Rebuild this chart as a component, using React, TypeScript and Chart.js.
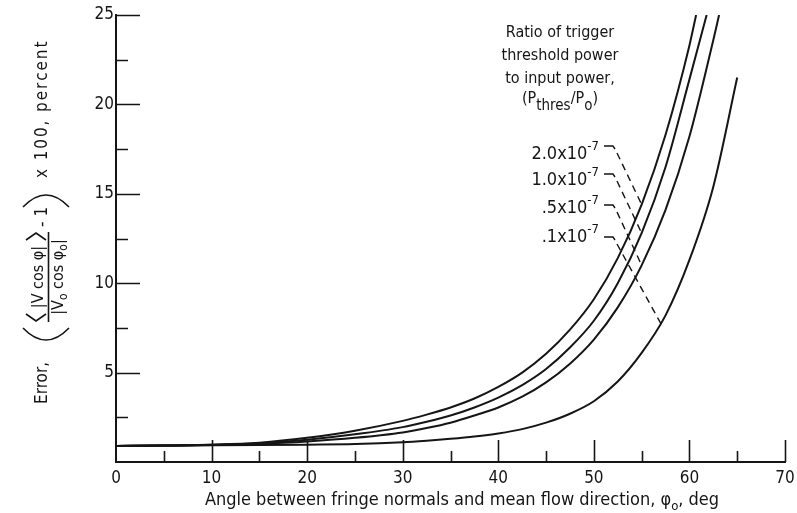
import React, { useEffect, useRef } from "react";
import { Chart, registerables } from "chart.js";

Chart.register(...registerables);

const INK = "#151515";
const FONT = "'DejaVu Sans Condensed', 'Liberation Sans Narrow', 'DejaVu Sans', sans-serif";

// Ratio of trigger threshold power to input power (P_thres / P_o)
const ratioMantissa = ["2.0x10", "1.0x10", ".5x10", ".1x10"];
const ratioExponent = "-7";

// Angle (deg) / error (percent) for each ratio
const angle20 = [0, 5, 10, 15, 20, 25, 30, 32.5, 35, 37.5, 40, 42.5, 45, 47.5, 50, 52.5, 55, 57.5, 60, 60.7];
const error20 = [0.9, 0.92, 0.97, 1.08, 1.35, 1.75, 2.3, 2.65, 3.05, 3.55, 4.2, 5.0, 6.05, 7.4, 9.1, 11.4, 14.4, 18.3, 23.3, 25];

const angle10 = [0, 5, 10, 15, 20, 25, 30, 32.5, 35, 37.5, 40, 42.5, 45, 47.5, 50, 52.5, 55, 57.5, 60, 61.8];
const error10 = [0.9, 0.92, 0.96, 1.05, 1.25, 1.55, 1.95, 2.25, 2.6, 3.05, 3.6, 4.3, 5.2, 6.4, 7.9, 10.0, 12.8, 16.5, 21.4, 25];

const angle05 = [0, 5, 10, 15, 20, 25, 30, 32.5, 35, 37.5, 40, 42.5, 45, 47.5, 50, 52.5, 55, 57.5, 60, 62.5, 63.1];
const error05 = [0.9, 0.92, 0.95, 1.02, 1.15, 1.35, 1.65, 1.9, 2.2, 2.6, 3.05, 3.65, 4.45, 5.5, 6.85, 8.65, 11.0, 14.1, 18.2, 23.6, 25];

const angle01 = [0, 10, 20, 25, 30, 32.5, 35, 37.5, 40, 42.5, 45, 47.5, 50, 52.5, 55, 57.5, 60, 62.5, 65];
const error01 = [0.9, 0.93, 0.97, 1.0, 1.1, 1.19, 1.3, 1.43, 1.6, 1.84, 2.2, 2.7, 3.4, 4.5, 6.1, 8.2, 11.3, 15.4, 21.5];

// where each label's leader line meets its curve
const leaderAngle = [55, 55, 55, 57];
const leaderError = [14.4, 12.8, 11.0, 7.75];

const xMinorTicks = [5, 10, 15, 20, 25, 30, 35, 40, 45, 50, 55, 60, 65, 70];
const yMinorTicks = [2.5, 5, 7.5, 10, 12.5, 15, 17.5, 20, 22.5, 25];

const toPoints = (xs: number[], ys: number[]) => xs.map((x, i) => ({ x, y: ys[i] }));

function drawRun(ctx: any, parts: [string, string, number][], centerX: number, baseY: number) {
  let total = 0;
  for (const [t, f] of parts) {
    ctx.font = f;
    total += ctx.measureText(t).width;
  }
  let cx = centerX - total / 2;
  ctx.textAlign = "left";
  for (const [t, f, dy] of parts) {
    ctx.font = f;
    ctx.fillText(t, cx, baseY + dy);
    cx += ctx.measureText(t).width;
  }
}

const decor = {
  id: "decor",
  afterDraw(chart: any) {
    const { ctx } = chart;
    const xs = chart.scales.x;
    const ys = chart.scales.y;
    const x0 = xs.getPixelForValue(0);
    const y0 = ys.getPixelForValue(0);
    ctx.save();
    ctx.strokeStyle = INK;
    ctx.fillStyle = INK;
    ctx.lineWidth = 1.6;
    ctx.lineCap = "butt";
    // inward ticks
    ctx.beginPath();
    for (const t of xMinorTicks) {
      const px = Math.round(xs.getPixelForValue(t)) + 0.5;
      const len = t % 10 === 0 ? 22 : 11;
      ctx.moveTo(px, y0);
      ctx.lineTo(px, y0 - len);
    }
    for (const t of yMinorTicks) {
      const py = Math.round(ys.getPixelForValue(t)) + 0.5;
      const len = t % 5 === 0 ? 24 : 12;
      ctx.moveTo(x0, py);
      ctx.lineTo(x0 + len, py);
    }
    ctx.stroke();

    ctx.textBaseline = "alphabetic";
    const main = "16px " + FONT;
    const ymain = "17px " + FONT;
    const sub = "12px " + FONT;

    // x-axis title
    drawRun(
      ctx,
      [
        ["Angle between fringe normals and mean flow direction, \u03c6", "18px " + FONT, 0],
        ["o", "13px " + FONT, 5],
        [", deg", "18px " + FONT, 0],
      ],
      462,
      505
    );

    // y-axis title (rotated)
    ctx.save();
    ctx.translate(47, 404);
    ctx.rotate(-Math.PI / 2);
    ctx.textAlign = "left";
    ctx.font = ymain;
    ctx.fillText("Error,", 0, 0);
    ctx.lineWidth = 1.6;
    ctx.beginPath();
    // big parentheses
    ctx.moveTo(76, -24);
    ctx.quadraticCurveTo(52, -1, 76, 22);
    ctx.moveTo(197, -24);
    ctx.quadraticCurveTo(221, -1, 197, 22);
    // angle brackets
    ctx.moveTo(90, -21);
    ctx.lineTo(83, -11);
    ctx.lineTo(90, -1);
    ctx.moveTo(164, -21);
    ctx.lineTo(171, -11);
    ctx.lineTo(164, -1);
    // fraction bar
    ctx.moveTo(82, 1.5);
    ctx.lineTo(172, 1.5);
    ctx.stroke();
    ctx.textAlign = "center";
    ctx.font = main;
    ctx.fillText("|V cos \u03c6|", 127, -4);
    drawRun(
      ctx,
      [
        ["|V", main, 0],
        ["o", sub, 4],
        [" cos \u03c6", main, 0],
        ["o", sub, 4],
        ["|", main, 0],
      ],
      127,
      16
    );
    ctx.textAlign = "left";
    ctx.font = ymain;
    ctx.fillText("- 1", 177, 0);
    const tail = "x 100, percent";
    const tw = ctx.measureText(tail).width;
    const spacing = Math.max(0, (136 - tw) / (tail.length - 1));
    let tu = 226;
    for (const ch of tail) {
      ctx.fillText(ch, tu, 0);
      tu += ctx.measureText(ch).width + spacing;
    }
    ctx.restore();

    // annotation block
    ctx.textAlign = "center";
    ctx.font = main;
    ctx.fillText("Ratio of trigger", 560, 37);
    ctx.fillText("threshold power", 560, 60);
    ctx.fillText("to input power,", 560, 83);
    drawRun(
      ctx,
      [
        ["(P", main, 0],
        ["thres", "15px " + FONT, 7],
        ["/P", main, 0],
        ["o", "15px " + FONT, 7],
        [")", main, 0],
      ],
      560,
      103
    );

    // ratio labels with leaders
    const baselines = [159, 185, 213, 242];
    const hooks = [146, 174, 205, 237];
    ratioMantissa.forEach((m, i) => {
      ctx.textAlign = "left";
      ctx.font = "13px " + FONT;
      const ew = ctx.measureText(ratioExponent).width;
      ctx.fillText(ratioExponent, 599 - ew, baselines[i] - 9);
      ctx.font = "18px " + FONT;
      const mw = ctx.measureText(m).width;
      ctx.fillText(m, 599 - ew - mw, baselines[i]);
      const tx = xs.getPixelForValue(leaderAngle[i]);
      const ty = ys.getPixelForValue(leaderError[i]);
      ctx.lineWidth = 1.4;
      ctx.setLineDash([]);
      ctx.beginPath();
      ctx.moveTo(604, hooks[i]);
      ctx.lineTo(613, hooks[i]);
      ctx.lineTo(615, hooks[i] + 3);
      ctx.stroke();
      ctx.setLineDash([7, 5]);
      ctx.beginPath();
      ctx.moveTo(617, hooks[i] + 7);
      ctx.lineTo(tx, ty);
      ctx.stroke();
      ctx.setLineDash([]);
    });
    ctx.restore();
  },
};

export default function App() {
  const ref = useRef<HTMLCanvasElement | null>(null);
  useEffect(() => {
    if (!ref.current) return;
    const ds = (xs: number[], ys: number[]) => ({
      data: toPoints(xs, ys),
      borderColor: INK,
      borderWidth: 2,
      pointRadius: 0,
      fill: false,
      cubicInterpolationMode: "monotone" as const,
    });
    const chart = new Chart(ref.current, {
      type: "line",
      data: {
        datasets: [
          ds(angle20, error20),
          ds(angle10, error10),
          ds(angle05, error05),
          ds(angle01, error01),
        ],
      },
      options: {
        responsive: false,
        animation: false,
        layout: { padding: { top: 15, right: 12, left: 0, bottom: 0 } },
        plugins: { legend: { display: false }, tooltip: { enabled: false } },
        scales: {
          x: {
            type: "linear",
            min: 0,
            max: 70,
            ticks: { stepSize: 10, color: INK, font: { family: FONT, size: 17 }, padding: 6, maxRotation: 0 },
            grid: { display: false, drawTicks: false },
            border: { display: true, color: INK, width: 2 },
            afterFit(s: any) {
              s.height = 51;
              s.paddingLeft = 0;
              s.paddingRight = 0;
            },
          },
          y: {
            type: "linear",
            min: 0,
            max: 25,
            ticks: {
              stepSize: 5,
              color: INK,
              font: { family: FONT, size: 17 },
              padding: 2,
              callback: (v: any) => (v === 0 ? "" : String(v)),
            },
            grid: { display: false, drawTicks: false },
            border: { display: true, color: INK, width: 2 },
            afterFit(s: any) {
              s.width = 116;
            },
          },
        },
      },
      plugins: [decor],
    });
    return () => chart.destroy();
  }, []);
  return (
    <div style={{ position: "absolute", left: 0, top: 0, width: 797, height: 513, background: "#fff" }}>
      <canvas ref={ref} width={797} height={513} style={{ display: "block" }} />
    </div>
  );
}
